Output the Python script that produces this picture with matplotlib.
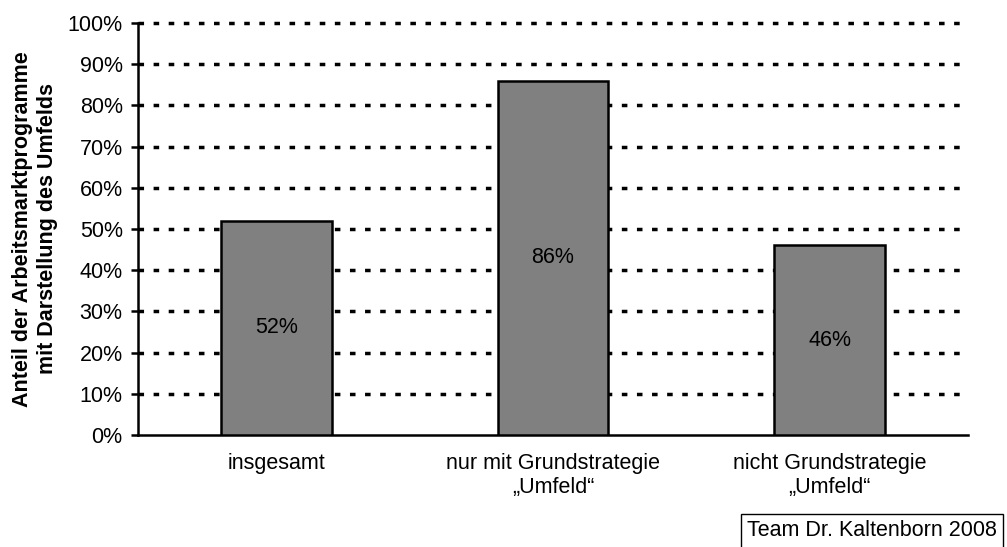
import matplotlib.pyplot as plt
import numpy as np

plt.rcParams['font.family'] = ['Liberation Sans', 'DejaVu Sans']

# Dati
categorie = ['insgesamt', 'nur mit Grundstrategie\n\u201eUmfeld\u201c', 'nicht Grundstrategie\n\u201eUmfeld\u201c']
valori = [52, 86, 46]
etichette = ['52%', '86%', '46%']
yticks = [0, 10, 20, 30, 40, 50, 60, 70, 80, 90, 100]

fig = plt.figure(figsize=(10.07, 5.47), dpi=100)
ax = fig.add_axes([138 / 1007, 1 - 435 / 547, (968 - 138) / 1007, (435 - 23) / 547])

x = np.arange(len(categorie))
ax.set_xlim(-0.5, len(categorie) - 0.5)
ax.set_ylim(0, 100)

# Griglia tratteggiata
for t in yticks[1:]:
    ax.axhline(t, color='black', linewidth=2.5, linestyle=(0, (1.6, 2.75)), zorder=1, clip_on=False)

ax.bar(x, valori, width=0.4, color='#808080', edgecolor='black', linewidth=1.8, zorder=3)

for xi, v, lab in zip(x, valori, etichette):
    ax.text(xi, v / 2, lab, ha='center', va='center', fontsize=15.5, zorder=4)

ax.set_yticks(yticks)
ax.set_yticklabels([f'{t}%' for t in yticks], fontsize=15.5)
ax.set_xticks(x)
ax.set_xticklabels(categorie, fontsize=15.5, linespacing=1.2)
ax.tick_params(axis='x', length=0, pad=13)
ax.tick_params(axis='y', length=5, width=1.8, pad=6)

for s in ['top', 'right']:
    ax.spines[s].set_visible(False)
ax.spines['left'].set_linewidth(1.8)
ax.spines['bottom'].set_linewidth(1.8)

fig.text(35 / 1007, 1 - 229 / 547, 'Anteil der Arbeitsmarktprogramme\nmit Darstellung des Umfelds',
         rotation=90, ha='center', va='center', fontsize=15.5, fontweight='bold', linespacing=1.2)

fig.text(872 / 1007, 1 - 531 / 547, 'Team Dr. Kaltenborn 2008', ha='center', va='center', fontsize=15.5,
         bbox=dict(boxstyle='square,pad=0.3', facecolor='white', edgecolor='black', linewidth=1))

plt.savefig('out.png', dpi=100)
plt.close()
